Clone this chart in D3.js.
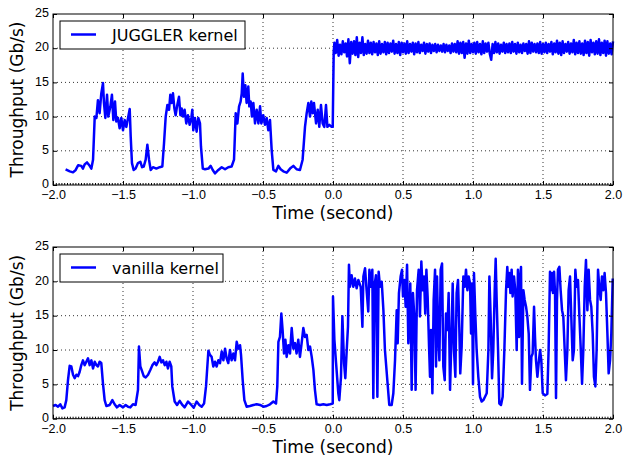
<!DOCTYPE html>
<html>
<head>
<meta charset="utf-8">
<script src="https://cdn.jsdelivr.net/npm/d3@7"></script>
<style>
  body { margin: 0; background: #fff; }
  svg { display: block; font-family: "DejaVu Sans", sans-serif; }
  .tick text { font-size: 12.5px; fill: #000; }
</style>
</head>
<body>
<svg id="chart" width="626" height="457"></svg>
<script>
// JUGGLER kernel, before the switch at t=0
const jugglerT = [-1.91,-1.88,-1.857,-1.838,-1.82,-1.798,-1.786,-1.774,-1.757,-1.738,-1.726,-1.714,-1.702,-1.69,-1.679,-1.667,-1.655,-1.643,-1.636,-1.626,-1.614,-1.605,-1.59,-1.579,-1.569,-1.557,-1.548,-1.536,-1.524,-1.512,-1.5,-1.488,-1.476,-1.464,-1.452,-1.445,-1.436,-1.424,-1.41,-1.393,-1.376,-1.364,-1.352,-1.338,-1.326,-1.314,-1.302,-1.286,-1.262,-1.238,-1.219,-1.207,-1.195,-1.183,-1.171,-1.162,-1.152,-1.143,-1.133,-1.124,-1.114,-1.1,-1.09,-1.081,-1.071,-1.06,-1.048,-1.036,-1.024,-1.012,-1.005,-0.998,-0.986,-0.974,-0.962,-0.95,-0.943,-0.93,-0.914,-0.89,-0.874,-0.859,-0.843,-0.819,-0.795,-0.771,-0.748,-0.724,-0.707,-0.695,-0.683,-0.671,-0.66,-0.652,-0.645,-0.636,-0.626,-0.617,-0.605,-0.598,-0.588,-0.579,-0.569,-0.557,-0.545,-0.533,-0.521,-0.512,-0.498,-0.486,-0.474,-0.462,-0.45,-0.438,-0.426,-0.407,-0.39,-0.374,-0.355,-0.331,-0.307,-0.283,-0.26,-0.236,-0.217,-0.2,-0.188,-0.176,-0.164,-0.155,-0.145,-0.136,-0.121,-0.109,-0.098,-0.086,-0.074,-0.062,-0.05,-0.04,-0.026,-0.01,-0.002,0.005];
const jugglerV = [2.3,2.0,1.85,2.2,2.9,2.8,2.4,3.0,3.3,2.8,2.4,3.7,10.0,9.8,12.4,10.5,13.4,14.9,12.0,9.8,13.2,10.0,11.5,13.2,9.5,12.2,9.3,9.8,8.3,9.8,8.0,9.5,8.5,9.8,11.1,7.1,3.2,2.2,2.4,3.2,3.4,2.6,2.7,3.7,5.9,3.7,2.2,2.6,2.4,2.6,2.7,6.1,10.0,11.7,11.0,13.2,12.0,13.4,11.2,10.2,11.5,12.9,10.2,11.2,10.0,11.0,9.0,10.2,8.8,9.8,11.0,8.0,9.8,7.8,9.8,9.0,5.6,2.4,2.3,2.4,2.8,2.2,1.7,2.2,2.6,2.3,2.6,2.7,3.7,10.5,9.0,11.5,12.2,13.4,16.3,12.9,14.6,12.0,14.4,11.5,12.2,10.0,12.0,9.0,11.0,9.0,11.5,9.0,10.2,8.8,9.8,8.0,9.5,5.1,2.2,2.0,2.8,2.3,2.0,1.8,2.4,2.8,2.3,2.2,3.7,8.5,10.5,12.0,10.0,12.2,10.5,12.0,9.0,11.0,8.5,11.7,9.0,8.5,11.7,8.5,8.8,8.5,8.5,19.5];
// JUGGLER kernel after t=0, one reading every 10 ms from 0.01 s
const jugglerTailStart = 0.01, jugglerTailStep = 0.01;
const jugglerTailV = [
  20.8,19.3,21.2,18.9,20.5,19.1,21.0,19.4,20.7,18.8,21.3,17.8,20.9,19.2,21.0,19.0,21.6,18.7,20.8,19.3,21.6,19.0,20.6,19.2,21.1,
  19.3,20.8,19.1,20.9,19.4,20.7,19.0,21.0,19.2,20.6,19.4,20.9,19.1,20.8,19.3,20.7,19.5,21.1,19.2,20.6,19.3,20.9,19.0,20.8,19.4,
  20.7,19.2,21.0,19.3,20.6,19.5,20.8,19.1,20.7,19.4,20.9,19.3,20.5,19.6,20.8,19.2,20.6,19.5,20.7,19.3,20.5,19.6,20.6,19.4,20.5,
  19.6,20.4,19.5,20.6,19.4,20.5,19.6,20.4,19.3,20.7,19.5,20.6,19.4,21.0,19.2,20.8,19.3,20.9,18.6,20.7,19.2,21.1,19.3,20.6,19.4,
  20.8,19.2,20.9,19.4,20.6,19.1,21.0,19.3,20.7,19.5,20.8,19.2,18.3,20.6,19.3,20.9,19.4,20.7,19.2,20.5,19.5,20.8,19.3,20.6,19.4,
  20.7,19.3,20.9,19.5,20.6,19.2,20.8,19.4,20.5,19.3,20.7,19.6,20.6,19.2,21.0,19.3,20.8,19.5,20.6,19.4,20.7,19.3,20.9,19.2,20.6,
  19.4,20.8,19.3,20.6,19.5,20.9,19.1,20.7,19.4,21.1,19.2,20.8,19.0,21.0,19.3,20.6,19.5,20.9,19.2,20.7,19.4,21.2,19.1,20.8,19.3,
  21.0,19.2,20.7,19.0,21.1,19.3,20.9,18.9,21.2,19.4,20.8,19.1,21.0,19.2,21.3,19.0,20.8,19.3,21.1,18.9,21.0,19.2,20.7,19.1,21.0];

// vanilla kernel
const vanillaT = [-2.0,-1.981,-1.964,-1.948,-1.933,-1.917,-1.905,-1.893,-1.881,-1.869,-1.857,-1.845,-1.833,-1.821,-1.81,-1.798,-1.786,-1.774,-1.762,-1.75,-1.738,-1.726,-1.714,-1.702,-1.69,-1.679,-1.667,-1.655,-1.643,-1.631,-1.619,-1.595,-1.576,-1.56,-1.543,-1.524,-1.5,-1.481,-1.464,-1.448,-1.429,-1.41,-1.393,-1.386,-1.376,-1.367,-1.352,-1.338,-1.321,-1.305,-1.29,-1.274,-1.262,-1.25,-1.238,-1.226,-1.214,-1.202,-1.19,-1.179,-1.167,-1.155,-1.148,-1.131,-1.114,-1.095,-1.076,-1.06,-1.036,-1.012,-0.995,-0.974,-0.955,-0.938,-0.921,-0.907,-0.89,-0.879,-0.867,-0.855,-0.843,-0.831,-0.819,-0.807,-0.795,-0.783,-0.771,-0.76,-0.748,-0.736,-0.724,-0.712,-0.7,-0.688,-0.676,-0.664,-0.657,-0.645,-0.633,-0.617,-0.593,-0.569,-0.545,-0.521,-0.497,-0.474,-0.45,-0.426,-0.407,-0.398,-0.39,-0.379,-0.369,-0.36,-0.35,-0.34,-0.331,-0.319,-0.307,-0.295,-0.283,-0.271,-0.26,-0.248,-0.236,-0.224,-0.212,-0.2,-0.188,-0.176,-0.164,-0.152,-0.14,-0.129,-0.117,-0.093,-0.069,-0.045,-0.021,-0.002,0.0,0.01,0.022,0.038,0.045,0.057,0.067,0.079,0.088,0.098,0.107,0.114,0.121,0.133,0.145,0.157,0.169,0.181,0.198,0.21,0.217,0.229,0.24,0.252,0.26,0.269,0.281,0.288,0.295,0.307,0.317,0.326,0.336,0.348,0.36,0.371,0.388,0.402,0.419,0.431,0.443,0.455,0.462,0.471,0.483,0.493,0.5,0.51,0.519,0.529,0.538,0.545,0.552,0.562,0.571,0.581,0.59,0.6,0.612,0.621,0.631,0.64,0.65,0.659,0.667,0.676,0.686,0.693,0.7,0.71,0.719,0.729,0.736,0.743,0.752,0.76,0.769,0.779,0.788,0.798,0.807,0.817,0.826,0.836,0.845,0.855,0.864,0.874,0.883,0.893,0.902,0.909,0.919,0.931,0.941,0.95,0.96,0.969,0.979,0.986,0.993,1.0,1.007,1.017,1.026,1.038,1.05,1.062,1.074,1.086,1.098,1.11,1.117,1.126,1.136,1.145,1.155,1.162,1.169,1.179,1.188,1.2,1.212,1.224,1.236,1.245,1.252,1.26,1.267,1.276,1.283,1.293,1.302,1.312,1.321,1.329,1.336,1.343,1.35,1.36,1.369,1.379,1.388,1.398,1.407,1.417,1.426,1.436,1.443,1.45,1.46,1.469,1.479,1.488,1.498,1.514,1.531,1.54,1.55,1.557,1.564,1.571,1.579,1.586,1.593,1.6,1.607,1.617,1.626,1.636,1.645,1.655,1.664,1.674,1.683,1.693,1.702,1.712,1.721,1.731,1.74,1.75,1.76,1.769,1.779,1.788,1.798,1.807,1.817,1.826,1.836,1.845,1.855,1.864,1.874,1.883,1.893,1.902,1.912,1.921,1.931,1.94,1.95,1.96,1.969,1.979,1.988,1.998];
const vanillaV = [1.85,2.0,1.75,2.1,1.5,1.65,2.7,5.6,7.7,7.6,6.4,5.9,6.4,6.2,6.8,7.8,8.5,7.8,8.3,8.8,7.8,8.5,7.3,8.3,7.8,7.6,8.3,8.1,5.1,2.7,1.85,2.0,2.7,2.1,1.65,2.0,1.65,2.0,1.75,1.65,2.1,2.0,4.2,10.5,7.6,7.1,6.2,6.0,6.4,7.1,7.8,8.2,7.8,8.3,9.0,8.2,8.5,7.8,8.3,7.3,8.3,7.6,4.7,2.5,2.0,2.6,2.0,1.65,2.5,2.0,1.6,2.5,2.0,1.75,2.2,4.7,9.9,9.3,9.0,7.6,8.3,7.6,8.5,8.1,9.8,8.5,10.2,8.8,8.1,10.0,8.5,9.5,8.5,11.2,10.2,10.7,9.3,5.6,2.7,1.75,1.85,2.0,2.1,2.0,1.75,1.85,2.1,2.5,2.2,4.7,11.2,11.9,15.3,12.9,9.5,11.5,9.0,10.7,9.5,13.2,10.2,11.0,9.5,11.5,9.0,11.0,13.2,11.9,12.2,10.0,10.5,9.0,7.1,4.2,2.1,2.0,2.1,2.0,2.1,2.2,17.8,11.5,8.1,3.7,2.7,6.1,14.9,8.1,5.9,10.0,13.4,22.4,19.2,20.9,19.2,20.4,19.0,20.2,19.2,13.4,20.7,21.9,18.7,15.6,21.7,19.2,21.7,3.0,19.2,20.9,3.2,21.4,19.2,19.95,15.8,10.0,5.6,2.0,2.0,3.7,8.5,15.8,11.0,18.3,20.7,21.7,17.8,20.2,16.3,22.4,11.0,14.9,19.7,4.2,18.3,14.9,4.2,18.7,21.7,14.9,22.9,18.7,20.7,15.3,21.7,17.8,10.5,6.1,12.9,3.7,17.3,21.7,7.6,20.7,11.9,8.5,21.7,22.6,7.6,5.6,15.3,12.9,18.3,4.2,11.0,19.7,10.0,6.1,18.3,20.2,13.4,6.6,10.5,20.7,19.2,21.7,18.7,20.7,19.7,12.4,19.7,5.0,21.2,14.9,10.0,6.1,3.2,2.5,2.7,3.2,3.7,10.0,20.7,14.9,5.9,10.0,18.7,23.3,17.3,10.0,2.2,2.0,3.2,10.0,18.7,22.1,19.2,21.2,18.3,21.7,17.8,20.7,18.7,10.0,21.7,11.9,20.2,22.1,5.1,18.7,17.3,16.3,14.9,12.4,4.2,9.0,9.5,16.3,11.9,8.5,6.1,8.1,10.0,8.5,3.7,3.4,3.6,10.0,21.4,18.7,21.2,18.3,21.4,18.3,3.0,17.3,21.7,22.1,18.7,15.8,14.9,10.0,5.6,10.0,18.7,20.7,14.9,8.5,10.0,21.7,19.2,20.2,14.9,10.5,5.1,10.0,19.2,23.1,15.8,21.7,17.3,16.3,12.4,6.1,4.7,10.0,21.7,19.2,17.3,20.7,18.7,21.2,18.3,12.4,6.6,8.5,12.4,20.4];

const xTicks = [-2.0,-1.5,-1.0,-0.5,0.0,0.5,1.0,1.5,2.0];
const yTicks = [0,5,10,15,20,25];

const jugglerData = jugglerT.map((t,i)=>[t,jugglerV[i]])
  .concat(jugglerTailV.map((v,i)=>[jugglerTailStart + i*jugglerTailStep, v]));
const vanillaData = vanillaT.map((t,i)=>[t,vanillaV[i]]);

const svg = d3.select('#chart');
svg.append('rect').attr('width',626).attr('height',457).attr('fill','#fff');

const left = 53, right = 613;
const x = d3.scaleLinear().domain([-2,2]).range([left,right]);

function panel(top, bottom, data, name, legendW){
  const y = d3.scaleLinear().domain([0,25]).range([bottom,top]);
  const g = svg.append('g');

  // grid
  g.selectAll('.gx').data(xTicks.slice(1,-1)).enter().append('line')
    .attr('x1',d=>x(d)).attr('x2',d=>x(d)).attr('y1',top).attr('y2',bottom)
    .attr('stroke','#000').attr('stroke-width',0.8).attr('stroke-dasharray','1,3');
  g.selectAll('.gy').data(yTicks.slice(1,-1)).enter().append('line')
    .attr('x1',left).attr('x2',right).attr('y1',d=>y(d)).attr('y2',d=>y(d))
    .attr('stroke','#000').attr('stroke-width',0.8).attr('stroke-dasharray','1,3');

  // data line
  const line = d3.line().x(d=>x(d[0])).y(d=>y(d[1]));
  g.append('path').datum(data).attr('d',line)
    .attr('fill','none').attr('stroke','#0000ff').attr('stroke-width',2.5)
    .attr('stroke-linejoin','round');

  // minor ticks along the bottom
  g.append('g').attr('transform',`translate(0,${bottom})`)
    .call(d3.axisBottom(x).tickValues(d3.range(-2,2.0001,0.02)).tickSize(-2).tickFormat(''))
    .call(a=>a.select('.domain').remove());

  // axes
  g.append('g').attr('transform',`translate(0,${bottom})`)
    .call(d3.axisBottom(x).tickValues(xTicks).tickSize(-4).tickPadding(5.5).tickFormat(d3.format('.1f')))
    .call(a=>a.select('.domain').remove());
  g.append('g').attr('transform',`translate(0,${top})`)
    .call(d3.axisTop(x).tickValues(xTicks).tickSize(-4).tickFormat(''))
    .call(a=>a.select('.domain').remove());
  g.append('g').attr('transform',`translate(${left},0)`)
    .call(d3.axisLeft(y).tickValues(yTicks).tickSize(-4).tickPadding(4).tickFormat(d3.format('d')))
    .call(a=>a.select('.domain').remove())
    .call(a=>a.selectAll('text').attr('dy','0.22em'));
  g.append('g').attr('transform',`translate(${right},0)`)
    .call(d3.axisRight(y).tickValues(yTicks).tickSize(-4).tickFormat(''))
    .call(a=>a.select('.domain').remove());

  g.append('rect').attr('x',left).attr('y',top).attr('width',right-left).attr('height',bottom-top)
    .attr('fill','none').attr('stroke','#000').attr('stroke-width',1);

  // labels
  g.append('text').attr('x',(left+right)/2).attr('y',bottom+34)
    .attr('text-anchor','middle').attr('font-size',17).text('Time (second)');
  g.append('text').attr('transform',`translate(23,${(top+bottom)/2}) rotate(-90)`)
    .attr('text-anchor','middle').attr('font-size',17).text('Throughput (Gb/s)');

  // legend
  const lg = g.append('g').attr('transform',`translate(60,${top+7})`);
  lg.append('rect').attr('width',legendW).attr('height',28)
    .attr('fill','#fff').attr('stroke','#000').attr('stroke-width',1);
  lg.append('line').attr('x1',11).attr('x2',36).attr('y1',13.5).attr('y2',13.5)
    .attr('stroke','#0000ff').attr('stroke-width',2.5);
  lg.append('text').attr('x',52).attr('y',19.5).attr('font-size',16).text(name);
}

panel(14, 185, jugglerData, 'JUGGLER kernel', 185);
panel(247, 418.7, vanillaData, 'vanilla kernel', 163);
</script>
</body>
</html>
